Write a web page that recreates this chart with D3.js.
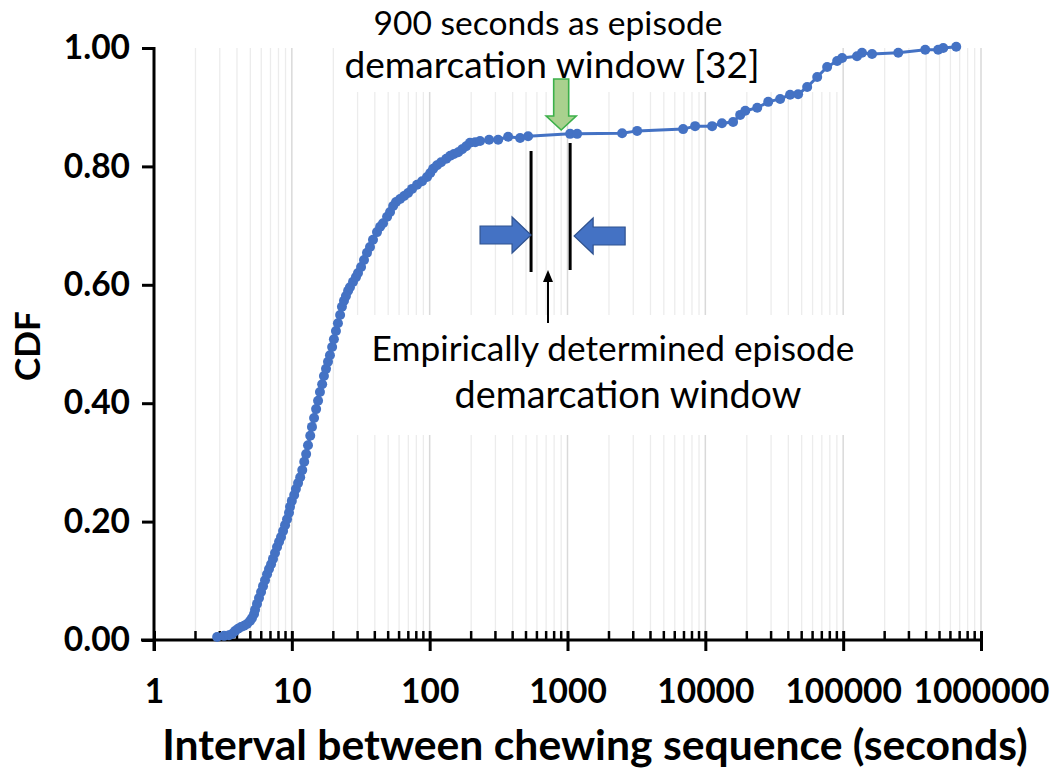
<!DOCTYPE html>
<html><head><meta charset="utf-8">
<script src="https://cdn.jsdelivr.net/npm/d3@7"></script>
<style>html,body{margin:0;padding:0;background:#fff;} svg{display:block;}</style>
</head><body>
<svg id="chart" width="1050" height="772"></svg>
<script>
// ---- data ----
const intervalSeconds = [2.87,3.22,3.50,3.68,3.87,4.07,4.28,4.50,4.73,4.97,5.14,5.32,5.41,5.59,5.78,5.98,6.18,6.39,6.61,6.83,7.07,7.30,7.55,7.81,8.08,8.35,8.64,8.93,9.23,9.54,9.70,10.0,10.4,10.7,11.1,11.5,11.9,12.3,12.7,13.1,13.6,14.0,14.5,15.0,15.5,16.0,16.6,17.1,17.7,18.3,18.9,19.6,20.2,20.9,21.6,22.4,23.1,23.9,24.7,25.6,26.4,27.8,29.2,30.2,31.8,33.4,35.1,36.9,38.8,41.5,43.7,45.9,49.1,51.6,54.3,57.0,61.0,65.2,69.7,74.5,81.0,88.1,95.7,101,106,113,121,132,141,150,161,172,184,196,214,232,270,314,371,453,518,1045,1175,2490,3200,6900,8430,11200,13200,15900,17900,19500,23800,28600,34900,41200,47100,54800,64800,76500,90400,98300,126000,137000,162000,251000,394000,489000,532000,661000];
const cdfValues = [0.005,0.007,0.008,0.010,0.015,0.019,0.022,0.024,0.027,0.032,0.037,0.044,0.051,0.061,0.071,0.081,0.091,0.101,0.111,0.120,0.128,0.137,0.147,0.157,0.166,0.174,0.184,0.194,0.204,0.215,0.225,0.235,0.245,0.255,0.265,0.275,0.287,0.301,0.314,0.329,0.345,0.360,0.375,0.390,0.404,0.419,0.432,0.446,0.458,0.470,0.481,0.495,0.508,0.522,0.535,0.549,0.563,0.573,0.581,0.590,0.596,0.605,0.613,0.620,0.630,0.642,0.654,0.664,0.676,0.689,0.698,0.704,0.715,0.723,0.733,0.740,0.745,0.750,0.755,0.762,0.769,0.775,0.782,0.789,0.796,0.802,0.807,0.813,0.818,0.821,0.824,0.829,0.834,0.840,0.841,0.843,0.845,0.845,0.850,0.848,0.851,0.855,0.855,0.856,0.860,0.863,0.868,0.868,0.873,0.875,0.887,0.894,0.899,0.909,0.914,0.921,0.922,0.934,0.951,0.968,0.978,0.983,0.986,0.992,0.990,0.992,0.997,0.997,1.000,1.002];
const xTickValues = [1,10,100,1000,10000,100000,1000000];
const xTickLabels = ["1","10","100","1000","10000","100000","1000000"];
const yTickValues = [0,0.2,0.4,0.6,0.8,1.0];
const yTickLabels = ["0.00","0.20","0.40","0.60","0.80","1.00"];
const xTitle = "Interval between chewing sequence (seconds)";
const yTitle = "CDF";
const refWindowSeconds = 900;
const empiricalWindow = [544, 1045];
const topNote = ["900 seconds as episode", "demarcation window [32]"];
const bottomNote = ["Empirically determined episode", "demarcation window"];

// ---- layout ----
const svg = d3.select("#chart");
const x = d3.scaleLog().domain([1, 1e6]).range([154, 981]);
const y = d3.scaleLinear().domain([0, 1]).range([640, 48]);
const blue = "#4472C4";
const FONT = "Lato, 'Open Sans', sans-serif";

function fit(sel, target) {
  const n = sel.node();
  const w = n.getComputedTextLength();
  const fs = parseFloat(sel.attr("font-size"));
  sel.attr("font-size", fs * target / w);
  return fs * target / w;
}

// gridlines
const minor = [];
for (let d = 1; d < 1e6; d *= 10) for (let k = 2; k <= 9; k++) minor.push(d * k);
const grid = svg.append("g");
grid.selectAll("line.minor").data(minor).join("line")
  .attr("x1", d => x(d)).attr("x2", d => x(d)).attr("y1", y(1)).attr("y2", y(0))
  .attr("stroke", "#ececec").attr("stroke-width", 1.3);
grid.selectAll("line.major").data(xTickValues.slice(1)).join("line")
  .attr("x1", d => x(d)).attr("x2", d => x(d)).attr("y1", y(1)).attr("y2", y(0))
  .attr("stroke", "#d9d9d9").attr("stroke-width", 1.5);

// white text boxes hiding gridlines
svg.append("rect").attr("x", 335).attr("y", 0).attr("width", 505).attr("height", 92).attr("fill", "#fff");
svg.append("rect").attr("x", 356).attr("y", 315).attr("width", 522).attr("height", 120).attr("fill", "#fff");

// axes
const xAxis = svg.append("g").attr("transform", `translate(0,${y(0)})`)
  .call(d3.axisBottom(x).tickValues(xTickValues).tickFormat((d, i) => xTickLabels[i]).tickSize(11).tickPadding(22));
xAxis.select(".domain").remove();
xAxis.append("line").attr("x1", 141).attr("x2", x(1e6)).attr("stroke", "#000").attr("stroke-width", 3);
xAxis.selectAll(".tick line").attr("stroke", "#000").attr("stroke-width", 3).attr("y1", -9);
xAxis.selectAll("line.minortick").data(minor).join("line").attr("class", "minortick")
  .attr("x1", d => x(d)).attr("x2", d => x(d)).attr("y1", -9).attr("y2", 0)
  .attr("stroke", "#000").attr("stroke-width", 2.5);
xAxis.selectAll(".tick text").attr("fill", "#000").attr("font-family", FONT)
  .attr("font-weight", "bold").attr("font-size", 36);

const yAxis = svg.append("g").attr("transform", `translate(${x(1)},0)`)
  .call(d3.axisLeft(y).tickValues(yTickValues).tickFormat((d, i) => yTickLabels[i]).tickSize(12).tickPadding(14));
yAxis.select(".domain").remove();
yAxis.append("line").attr("y1", y(1) - 1).attr("y2", y(0) + 11).attr("stroke", "#000").attr("stroke-width", 3);
yAxis.selectAll(".tick line").attr("stroke", "#000").attr("stroke-width", 3);
yAxis.selectAll(".tick text").attr("fill", "#000").attr("font-family", FONT)
  .attr("font-weight", "bold").attr("font-size", 36);

// fit tick label size to reference width of "1000000" (~136px)
const lastLab = xAxis.selectAll(".tick text").filter((d, i) => i === 6);
const tfs = fit(lastLab, 136);
xAxis.selectAll(".tick text").attr("font-size", tfs).attr("dy", "0.71em").attr("y", 39);
yAxis.selectAll(".tick text").attr("font-size", tfs).attr("x", -24);

// titles
const xt = svg.append("text").attr("x", 595).attr("y", 760).attr("text-anchor", "middle")
  .attr("font-family", FONT).attr("font-weight", "bold").attr("font-size", 36).text(xTitle);
fit(xt, 866);
svg.append("text").attr("transform", "translate(40,346) rotate(-90)").attr("text-anchor", "middle")
  .attr("font-family", FONT).attr("font-weight", "bold").attr("font-size", tfs * 1.05).text(yTitle);

// series
const pts = intervalSeconds.map((v, i) => [v, cdfValues[i]]);
svg.append("path").datum(pts)
  .attr("d", d3.line().x(d => x(d[0])).y(d => y(d[1])))
  .attr("fill", "none").attr("stroke", blue).attr("stroke-width", 3);
svg.selectAll("circle.pt").data(pts).join("circle").attr("class", "pt")
  .attr("cx", d => x(d[0])).attr("cy", d => y(d[1])).attr("r", 5).attr("fill", blue);

// annotations: empirical window lines
const wl = x(empiricalWindow[0]), wr = x(empiricalWindow[1]);
svg.append("line").attr("x1", wl).attr("x2", wl).attr("y1", 151).attr("y2", 272).attr("stroke", "#000").attr("stroke-width", 3);
svg.append("line").attr("x1", wr).attr("x2", wr).attr("y1", 143).attr("y2", 270).attr("stroke", "#000").attr("stroke-width", 3);

// blue block arrows
function blockArrow(tipX, cy, dir) {
  const headL = 19, headH = 18, shaftH = 9, shaftL = 32;
  const b = tipX - dir * headL, e = b - dir * shaftL;
  const p = [[e, cy - shaftH], [b, cy - shaftH], [b, cy - headH], [tipX, cy], [b, cy + headH], [b, cy + shaftH], [e, cy + shaftH]];
  svg.append("path").attr("d", d3.line()(p) + "Z").attr("fill", blue).attr("stroke", "#2F528F").attr("stroke-width", 1.2);
}
blockArrow(wl, 235, 1);
blockArrow(wr + 4, 236, -1);

// green arrow at 900 s
const gx = x(refWindowSeconds);
const gp = [[gx - 7.5, 79], [gx + 7.5, 79], [gx + 7.5, 116], [gx + 15, 116], [gx, 130], [gx - 15, 116], [gx - 7.5, 116]];
svg.append("path").attr("d", d3.line()(gp) + "Z").attr("fill", "#a9d18e").attr("stroke", "#3cb04a").attr("stroke-width", 1.6);

// small black arrow
svg.append("line").attr("x1", 548).attr("x2", 548).attr("y1", 323).attr("y2", 278).attr("stroke", "#000").attr("stroke-width", 2);
svg.append("path").attr("d", "M543,282 L548,270 L553,282 Z").attr("fill", "#000");

// annotation texts
function note(txt, cx, base, width) {
  const t = svg.append("text").attr("x", cx).attr("y", base).attr("text-anchor", "middle")
    .attr("font-family", FONT).attr("font-size", 32).attr("fill", "#000").text(txt);
  fit(t, width);
}
note(topNote[0], 548, 35, 349);
note(topNote[1], 552, 78, 415);
note(bottomNote[0], 613, 361, 483);
note(bottomNote[1], 628, 408, 347);
</script>
</body></html>
